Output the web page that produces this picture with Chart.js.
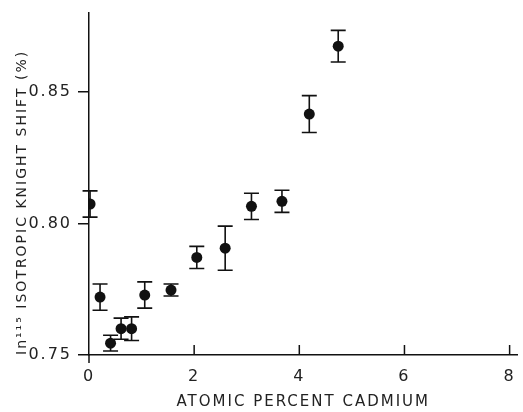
<!DOCTYPE html>
<html>
<head>
<meta charset="utf-8">
<script src="https://cdn.jsdelivr.net/npm/chart.js@4/dist/chart.umd.min.js"></script>
<style>
  html, body { margin: 0; padding: 0; background: #fff; }
  #wrap { width: 523px; height: 412px; }
</style>
</head>
<body>
<div id="wrap"><canvas id="c" width="523" height="412"></canvas></div>
<script>
// Data
const cadmiumPercent = [0.02, 0.21, 0.41, 0.61, 0.81, 1.06, 1.56, 2.05, 2.59, 3.09, 3.67, 4.19, 4.74];
const knightShift    = [0.8074, 0.7720, 0.7545, 0.7600, 0.7600, 0.7728, 0.7747, 0.7871, 0.7906, 0.8065, 0.8084, 0.8416, 0.8674];
const shiftError     = [0.0050, 0.0050, 0.0030, 0.0040, 0.0045, 0.0050, 0.0023, 0.0042, 0.0084, 0.0050, 0.0042, 0.0070, 0.0060];
const xTickValues = [0, 2, 4, 6, 8];
const yTickValues = [0.75, 0.80, 0.85];
const xTitle = 'ATOMIC PERCENT CADMIUM';
const yTitle = 'In\u00B9\u00B9\u2075 ISOTROPIC KNIGHT SHIFT (%)';

const INK = '#111';
const FONT = "'DejaVu Sans', sans-serif";

const points = cadmiumPercent.map((x, i) => ({ x: x, y: knightShift[i] }));

const spacingPlugin = {
  id: 'spacing',
  beforeUpdate(chart) { chart.ctx.letterSpacing = '2px'; },
  beforeLayout(chart) { chart.ctx.letterSpacing = '2px'; },
  beforeDraw(chart) { chart.ctx.letterSpacing = '2px'; }
};

const errorBarPlugin = {
  id: 'errorBars',
  beforeDatasetsDraw(chart) {
    const ctx = chart.ctx;
    const xs = chart.scales.x, ys = chart.scales.y;
    ctx.save();
    ctx.strokeStyle = INK;
    ctx.lineWidth = 1.6;
    const cap = 7.5;
    cadmiumPercent.forEach((xv, i) => {
      const px = xs.getPixelForValue(xv);
      const top = ys.getPixelForValue(knightShift[i] + shiftError[i]);
      const bot = ys.getPixelForValue(knightShift[i] - shiftError[i]);
      ctx.beginPath();
      ctx.moveTo(px, top); ctx.lineTo(px, bot);
      ctx.moveTo(px - cap, top); ctx.lineTo(px + cap, top);
      ctx.moveTo(px - cap, bot); ctx.lineTo(px + cap, bot);
      ctx.stroke();
    });
    ctx.restore();
  }
};

const innerTickPlugin = {
  id: 'innerTicks',
  afterDraw(chart) {
    const ctx = chart.ctx;
    const xs = chart.scales.x;
    const bottom = chart.chartArea.bottom;
    ctx.save();
    ctx.strokeStyle = INK;
    ctx.lineWidth = 1.5;
    xs.ticks.forEach(t => {
      const px = xs.getPixelForValue(t.value);
      ctx.beginPath();
      if (t.value === 0) { ctx.moveTo(px, bottom); ctx.lineTo(px, bottom + 8); }
      else { ctx.moveTo(px, bottom); ctx.lineTo(px, bottom - 10); }
      ctx.stroke();
    });
    ctx.restore();
  }
};

new Chart(document.getElementById('c'), {
  type: 'scatter',
  data: {
    datasets: [{
      data: points,
      pointRadius: 5.5,
      pointHoverRadius: 5.5,
      backgroundColor: INK,
      borderColor: INK,
      borderWidth: 0,
      showLine: false
    }]
  },
  options: {
    responsive: false,
    animation: false,
    devicePixelRatio: 1,
    layout: { padding: { left: 0, right: 0, top: 13, bottom: 0 } },
    plugins: { legend: { display: false }, tooltip: { enabled: false } },
    scales: {
      x: {
        type: 'linear',
        min: 0,
        max: 8.15,
        afterBuildTicks(s) { s.ticks = xTickValues.map(v => ({ value: v })); },
        afterFit(s) { s.height = 57; s.paddingRight = 0; s.paddingLeft = 0; },
        grid: { drawOnChartArea: false, drawTicks: false },
        border: { color: INK, width: 1.5 },
        ticks: {
          color: '#222',
          padding: 12,
          font: { family: FONT, size: 16 },
          callback: v => String(v),
          maxRotation: 0
        },
        title: {
          display: true,
          text: xTitle,
          color: '#222',
          font: { family: FONT, size: 15 },
          padding: { top: 2, bottom: 1 }
        }
      },
      y: {
        type: 'linear',
        min: 0.75,
        max: 0.88,
        afterBuildTicks(s) { s.ticks = yTickValues.map(v => ({ value: v })); },
        afterFit(s) { s.width = 89; s.paddingTop = 0; s.paddingBottom = 0; },
        grid: { drawOnChartArea: false, drawTicks: true, tickLength: 11, color: INK, lineWidth: 1.5 },
        border: { color: INK, width: 1.5 },
        ticks: {
          color: '#222',
          padding: 6,
          font: { family: FONT, size: 16 },
          callback: v => Number(v).toFixed(2)
        },
        title: {
          display: true,
          text: yTitle,
          align: 'start',
          color: '#222',
          font: { family: FONT, size: 14 },
          padding: { top: 14, bottom: 0 }
        }
      }
    }
  },
  plugins: [spacingPlugin, errorBarPlugin, innerTickPlugin]
});
</script>
</body>
</html>
